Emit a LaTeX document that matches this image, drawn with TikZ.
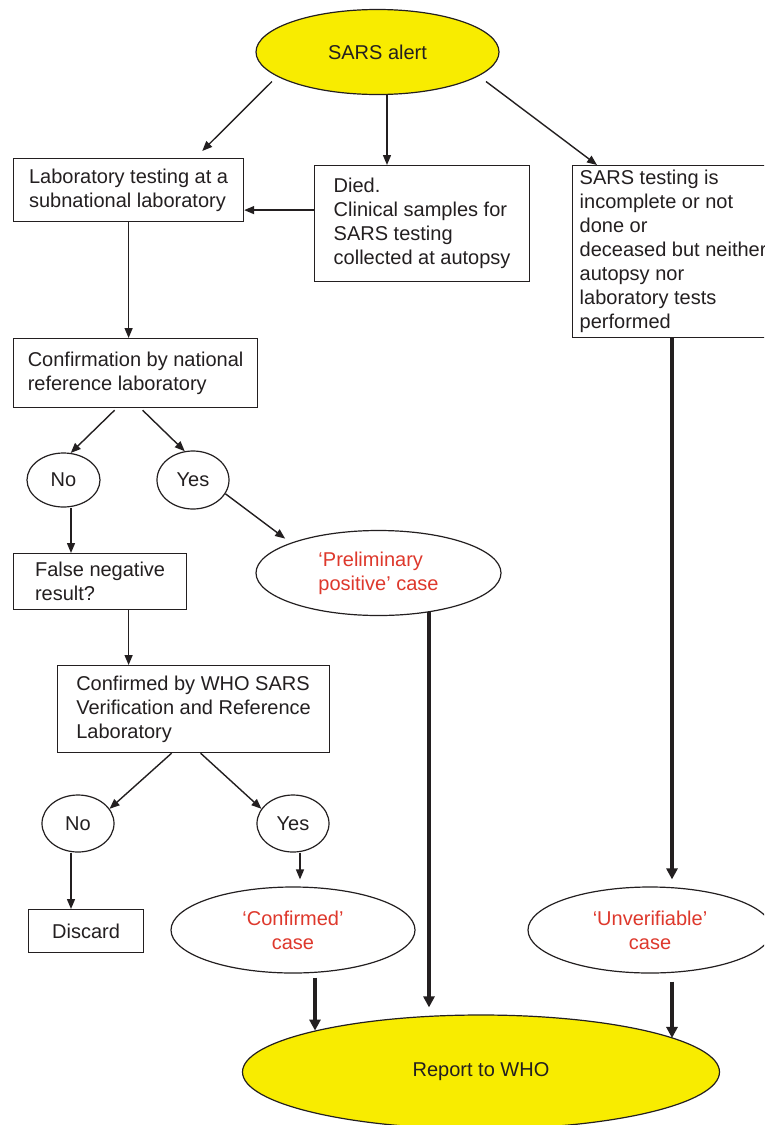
\documentclass[tikz,border=0pt]{standalone}
\usepackage{fontspec}
\setmainfont{Liberation Sans}
\usetikzlibrary{shapes.geometric,arrows.meta}
\definecolor{jaune}{RGB}{248,236,0}
\definecolor{rouge}{RGB}{222,56,44}
\definecolor{encre}{RGB}{35,31,32}

\tikzset{boite/.style = {draw = encre, line width = 1.2pt, rectangle, anchor = north west,
                         align = left, inner sep = 0pt, text = encre},
         bulle/.style = {draw = encre, line width = 1.2pt, ellipse, inner sep = 0pt,
                         align = center, text = encre},
         bullejaune/.style = {bulle, fill = jaune},
         cas/.style = {bulle, text = rouge},
         fl/.style = {draw = encre, line width = 1.4pt, -{Triangle[length=10pt,width=8pt]}},
         grosfl/.style = {draw = encre, line width = 4pt, -{Triangle[length=11pt,width=11pt]}}
        }

\begin{document}
\begin{tikzpicture}[x=1pt, y=-1pt, font=\fontsize{20}{24}\selectfont]
\useasboundingbox[fill=white] (0,0) rectangle (764,1125);
\clip (0,0) rectangle (764,1125);

\node[bullejaune, minimum width=243pt, minimum height=85pt] (alerte) at (377.5,52) {SARS alert};
\node[boite, minimum width=230pt, minimum height=63pt] (labo) at (13,158)
     {Laboratory testing at a\\subnational laboratory};
\node[boite, minimum width=215pt, minimum height=116pt] (died) at (314,165)
     {Died.\\Clinical samples for\\SARS testing\\collected at autopsy};
\node[boite, minimum width=201pt, minimum height=172pt] (sarsbox) at (572,165)
     {SARS testing is\\incomplete or not\\done or\\deceased but neither\\autopsy nor\\laboratory tests\\performed};
\node[boite, minimum width=244pt, minimum height=69pt] (confirm) at (13,338)
     {Confirmation by national\\reference laboratory};
\node[bulle, minimum width=73pt, minimum height=54pt] (non1) at (63.5,480) {No};
\node[bulle, minimum width=72pt, minimum height=58pt] (oui1) at (193,480) {Yes};
\node[boite, minimum width=173pt, minimum height=56pt] (faux) at (13,553)
     {False negative\\result?};
\node[cas, align=left, minimum width=245pt, minimum height=85pt] (prelim) at (378.5,573)
     {‘Preliminary\\positive’ case};
\node[boite, minimum width=272pt, minimum height=87pt] (who) at (57,665)
     {Confirmed by WHO SARS\\Verification and Reference\\Laboratory};
\node[bulle, minimum width=72pt, minimum height=57pt] (non2) at (78,823.5) {No};
\node[bulle, minimum width=72pt, minimum height=57pt] (oui2) at (293,823.5) {Yes};
\node[boite, minimum width=115pt, minimum height=43pt] (discard) at (28,909) {Discard};
\node[cas, minimum width=244pt, minimum height=86pt] (confirme) at (293,930) {‘Confirmed’\\case};
\node[cas, minimum width=244pt, minimum height=86pt] (unverif) at (650,930) {‘Unverifiable’\\case};
\node[bullejaune, minimum width=477pt, minimum height=114pt] (rapport) at (481,1072) {Report to WHO};

\draw[fl] ([xshift=-105.5pt,yshift=-29.5pt]alerte.center) -- ([xshift=-42pt,yshift=7pt]labo.north east);
\draw[fl] ([xshift=9.5pt]alerte.south) -- ([xshift=9.5pt]alerte.south |- died.north);
\draw[fl] ([xshift=108.5pt,yshift=-29.5pt]alerte.center) -- ([xshift=25pt]sarsbox.north west);
\coordinate (d1) at ([yshift=13.5pt]died.west);
\draw[fl] (d1) -- (d1 -| labo.east);
\draw[fl] (labo.south) -- (labo.south |- confirm.north);
\draw[fl] ([xshift=-21pt,yshift=-2pt]confirm.south) -- (non1.75);
\draw[fl] ([xshift=7pt,yshift=-2pt]confirm.south) -- (oui1.106);
\draw[fl] ([xshift=7.5pt]non1.south) -- ([xshift=7.5pt]non1.south |- faux.north);
\draw[fl, shorten >=7pt] (oui1.-23) -- (prelim.161);
\draw[fl] ([xshift=28.5pt]faux.south) -- ([xshift=28.5pt]faux.south |- who.north);
\draw[fl] ([xshift=-22pt]who.south) -- (non2.25);
\draw[fl] ([xshift=7pt]who.south) -- (oui2.155);
\draw[fl] ([xshift=-7pt]non2.south) -- ([xshift=-7pt]non2.south |- discard.north);
\draw[fl, shorten >=7pt] ([xshift=7pt]oui2.south) -- ([xshift=7pt]oui2.south |- confirme.north);
\draw[grosfl, shorten >=7pt] ([xshift=22pt]unverif.north |- sarsbox.south) -- ([xshift=22pt]unverif.north);
\draw[grosfl, shorten >=7pt] ([xshift=50.5pt,yshift=4pt]prelim.south) -- ([xshift=50.5pt]prelim.south |- rapport.north);
\draw[grosfl, shorten <=4pt] ([xshift=22pt]confirme.south) -- ([xshift=22pt]confirme.south |- rapport.166);
\draw[grosfl, shorten <=8pt] ([xshift=22pt]unverif.south) -- ([xshift=22pt]unverif.south |- rapport.10);
\end{tikzpicture}
\end{document}
